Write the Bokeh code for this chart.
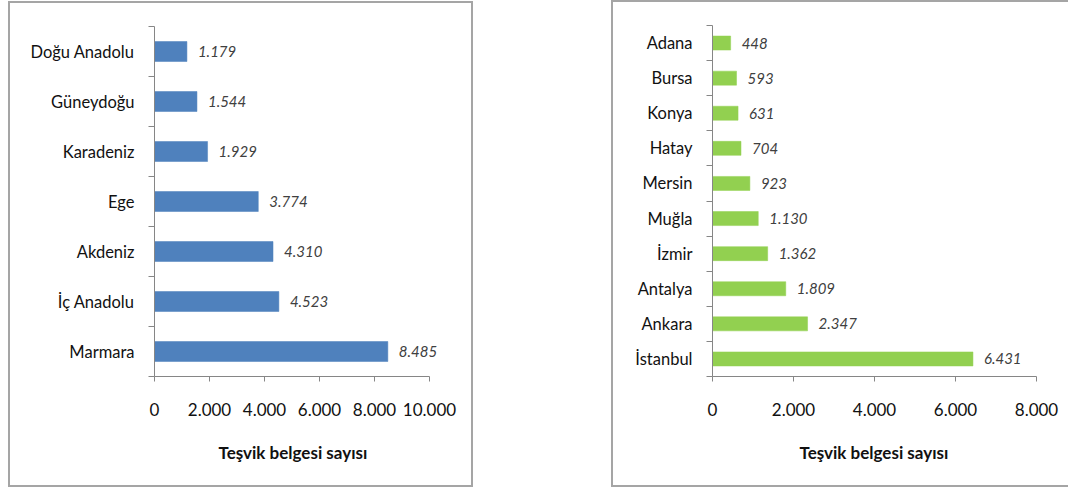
from bokeh.plotting import figure
from bokeh.layouts import row
from bokeh.models import Range1d, FixedTicker, ColumnDataSource, LabelSet, Title
from bokeh.core.properties import value
from bokeh.embed import file_html
from bokeh.resources import INLINE

# ---- data ----
regions = ["Doğu Anadolu", "Güneydoğu", "Karadeniz", "Ege", "Akdeniz", "İç Anadolu", "Marmara"]
region_counts = [1179, 1544, 1929, 3774, 4310, 4523, 8485]

cities = ["Adana", "Bursa", "Konya", "Hatay", "Mersin", "Muğla", "İzmir", "Antalya", "Ankara", "İstanbul"]
city_counts = [448, 593, 631, 704, 923, 1130, 1362, 1809, 2347, 6431]

left_ticks = [0, 2000, 4000, 6000, 8000, 10000]
left_tick_labels = ["0", "2.000", "4.000", "6.000", "8.000", "10.000"]
right_ticks = [0, 2000, 4000, 6000, 8000]
right_tick_labels = ["0", "2.000", "4.000", "6.000", "8.000"]
x_title = "Teşvik belgesi sayısı"

FONT = "Lato"
AXIS_COLOR = "#868686"


def fmt(v):
    return f"{v:,}".replace(",", ".")


def make_chart(cats, vals, ticks, tick_labels, color, width, height,
               mb_left, axis_px, mb_top, mb_bottom, title_offset, css, margin):
    n = len(cats)
    ys = [n - 1 - i + 0.5 for i in range(n)]
    src = ColumnDataSource(dict(y=ys, v=vals, lab=[fmt(v) for v in vals]))
    # the frame runs to the right edge of the canvas so the value labels are not
    # clipped; the x axis is bounded to the tick range and spans axis_px pixels
    frame_px = width - mb_left
    x_end = ticks[-1] * frame_px / axis_px
    p = figure(width=width, height=height, output_backend="svg", toolbar_location=None,
               x_range=Range1d(ticks[0], x_end), y_range=Range1d(0, n),
               min_border_left=mb_left, min_border_right=0,
               min_border_top=mb_top, min_border_bottom=mb_bottom,
               background_fill_color="white", border_fill_color="white")
    p.outline_line_color = None
    p.xgrid.grid_line_color = None
    p.ygrid.grid_line_color = None
    p.hbar(y="y", right="v", left=0, height=0.4, source=src,
           fill_color=color, line_color=color, line_width=0.5)
    p.add_layout(LabelSet(x="v", y="y", text="lab", source=src, x_offset=11,
                          text_baseline="middle", text_align="left",
                          text_font=value(FONT), text_font_style="italic",
                          text_font_size="15px", text_color="#404040"))

    # y axis: category names at band centres, tick marks at band boundaries
    ya = p.yaxis[0]
    ya.ticker = FixedTicker(ticks=ys, minor_ticks=list(range(n + 1)))
    ya.major_label_overrides = {y: c for y, c in zip(ys, cats)}
    ya.major_tick_line_color = None
    ya.major_tick_out = 0
    ya.major_tick_in = 0
    ya.minor_tick_out = 6
    ya.minor_tick_in = 0
    ya.minor_tick_line_color = AXIS_COLOR
    ya.axis_line_color = AXIS_COLOR
    ya.major_label_standoff = 14
    ya.major_label_text_font = FONT
    ya.major_label_text_font_size = "16.5px"
    ya.major_label_text_color = "#111111"

    xa = p.xaxis[0]
    xa.bounds = (ticks[0], ticks[-1])
    xa.ticker = FixedTicker(ticks=ticks, minor_ticks=[])
    xa.major_label_overrides = {t: l for t, l in zip(ticks, tick_labels)}
    xa.major_tick_out = 5
    xa.major_tick_in = 0
    xa.major_tick_line_color = AXIS_COLOR
    xa.axis_line_color = AXIS_COLOR
    xa.major_label_standoff = 21
    xa.major_label_text_font = FONT
    xa.major_label_text_font_size = "17px"
    xa.major_label_text_color = "#111111"

    p.add_layout(Title(text=x_title, align="left", offset=title_offset,
                       text_font=FONT, text_font_style="bold", text_font_size="17px",
                       text_color="#111111", standoff=42), "below")

    p.stylesheets = [css]
    p.margin = margin
    return p


p1 = make_chart(regions, region_counts, left_ticks, left_tick_labels, "#4F81BD",
                465, 486, 144, 275, 22, 113, 64,
                ":host { border: 2px solid #a5a5a5; }", (1, 0, 0, 8))
p2 = make_chart(cities, city_counts, right_ticks, right_tick_labels, "#92D050",
                457, 487, 99, 324, 23, 113, 87,
                ":host { border: 2px solid #a5a5a5; border-right: none; }", (0, 0, 0, 138))

layout = row(p1, p2)
open("out.html", "w").write(file_html(layout, INLINE))
